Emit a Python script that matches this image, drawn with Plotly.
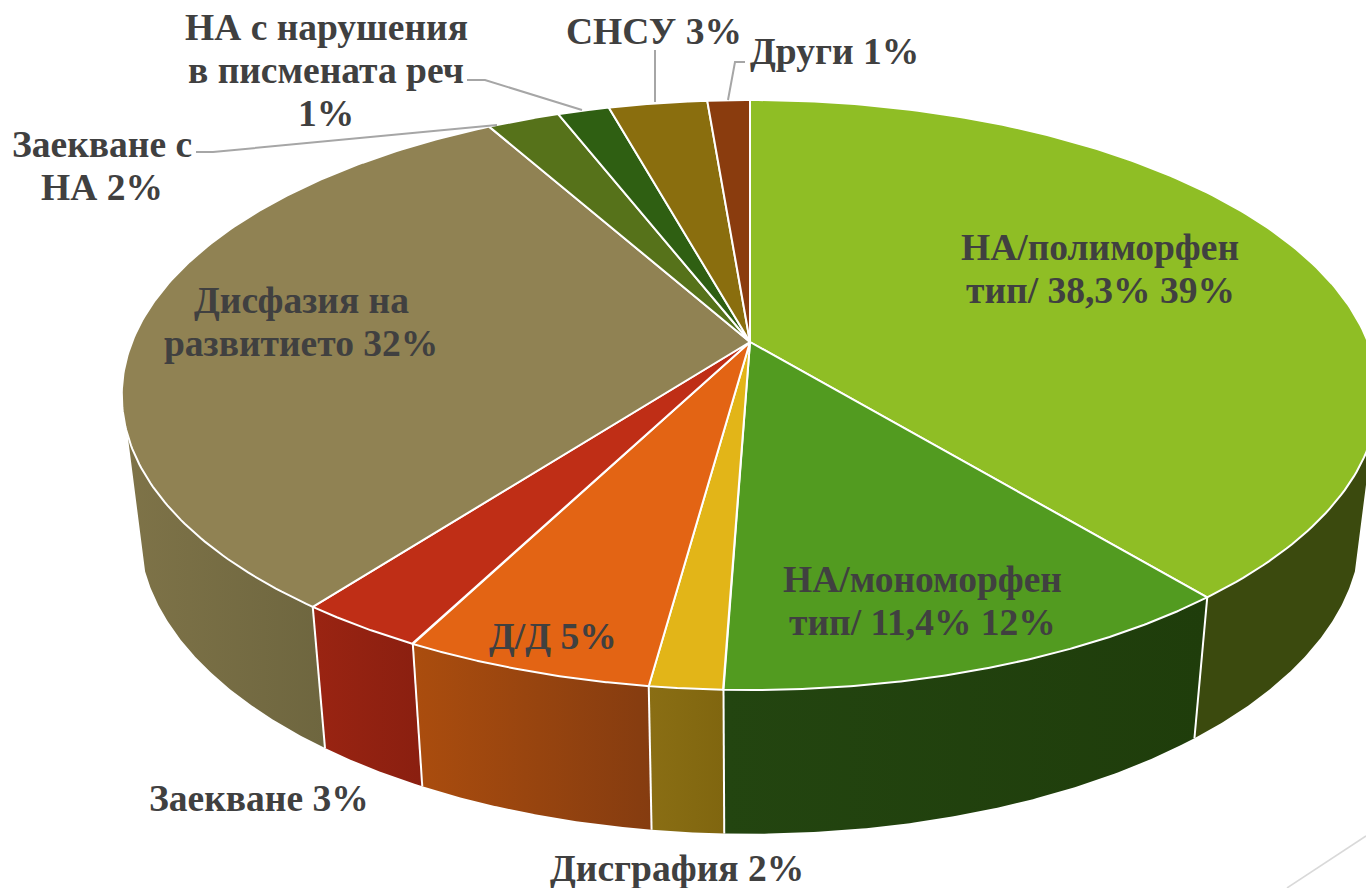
import numpy as np
import plotly.graph_objects as go

labels = ["НА/полиморфен<br>тип/ 38,3% 39%", "НА/мономорфен<br>тип/ 11,4% 12%", "Дисграфия 2%", "Д/Д 5%", "Заекване 3%",
          "Дисфазия на<br>развитието 32%", "Заекване с<br>НА 2%", "НА с нарушения<br>в писмената реч<br>1%", "СНСУ 3%", "Други 1%"]
values = [39.0, 11.56, 1.59, 5.43, 2.79, 31.51, 2.22, 1.58, 3.02, 1.3]
top_colors = ["#8fbe25", "#529b20", "#e2b518", "#e36414", "#bf2e16", "#908253", "#56721a", "#2f5f12", "#8a6e0e", "#8a3c0e"]
wall_left = ["#3b4a0e", "#234510", "#8a6e14", "#ab4d0e", "#9a2412", "#7e7348", "#56721a", "#2f5f12", "#8a6e0e", "#8a3c0e"]
wall_right = ["#3b4a0e", "#1f3d0b", "#80660f", "#853c10", "#8a1f10", "#6e663f", "#56721a", "#2f5f12", "#8a6e0e", "#8a3c0e"]
label_x = [1100, 922, 677, 553, 259, 301, 102, 326, 654, 834]
label_y = [269, 601, 868, 636, 798, 322, 166, 70, 31, 51]
LINE_H = 43

# pie projection (perspective disc seen from above)
CX, CY, A, B, K = 750, 342, 618.0, 285.5, 0.1797
def top_xy(theta):
    u, v = np.sin(theta), -np.cos(theta)
    d = 1 - K * v
    return CX + A * u / d, CY + B * v / d
def bot_xy(x, y):
    return CX + 0.972 * (x - CX), y + 141 + 0.03 * (y - 600)

edges = np.concatenate([[0], np.cumsum(values)]) / sum(values) * 2 * np.pi
VIS_A, VIS_B = np.radians(108), np.radians(252)

fig = go.Figure()
# walls
for i in range(len(values)):
    a, b = max(edges[i], VIS_A), min(edges[i + 1], VIS_B)
    if b <= a:
        continue
    t = np.linspace(a, b, 120)
    x, y = top_xy(t)
    xb, yb = bot_xy(x, y)
    fig.add_trace(go.Scatter(x=np.r_[x, xb[::-1], x[0]], y=np.r_[y, yb[::-1], y[0]], mode="lines", fill="toself",
                             line=dict(width=0, color=wall_left[i]),
                             fillcolor=wall_left[i],
                             fillgradient=dict(type="horizontal", colorscale=[[0, wall_left[i]], [1, wall_right[i]]]),
                             hoverinfo="skip", showlegend=False))
# wall separators
for e in edges:
    if VIS_A < e < VIS_B:
        x, y = top_xy(np.array([e]))
        xb, yb = bot_xy(x, y)
        fig.add_trace(go.Scatter(x=[x[0], xb[0]], y=[y[0], yb[0]], mode="lines", line=dict(color="white", width=2),
                                 hoverinfo="skip", showlegend=False))
# top face
for i in range(len(values)):
    t = np.linspace(edges[i], edges[i + 1], 160)
    x, y = top_xy(t)
    fig.add_trace(go.Scatter(x=np.r_[CX, x, CX], y=np.r_[CY, y, CY], mode="lines", fill="toself",
                             line=dict(color="white", width=2), fillcolor=top_colors[i],
                             hoverinfo="skip", showlegend=False))
# leader lines
leaders = [([196, 213, 497], [152, 152, 125]), ([467, 485, 582], [80, 80, 110]),
           ([655, 655], [50, 102]), ([745, 735, 728], [62, 62, 100])]
for lx, ly in leaders:
    fig.add_trace(go.Scatter(x=lx, y=ly, mode="lines", line=dict(color="#a6a6a6", width=2),
                             hoverinfo="skip", showlegend=False))
# decorative diagonal
fig.add_trace(go.Scatter(x=[1287, 1366], y=[888, 836], mode="lines", line=dict(color="#d9d9d9", width=1.5),
                         hoverinfo="skip", showlegend=False))
for s, lx, ly in zip(labels, label_x, label_y):
    parts = s.split("<br>")
    for j, part in enumerate(parts):
        fig.add_annotation(x=lx, y=ly + (j - (len(parts) - 1) / 2) * LINE_H, text="<b>" + part + "</b>", showarrow=False,
                           xanchor="center", yanchor="middle",
                           font=dict(family="Liberation Serif", size=37.5, color="#404040"), align="center")

fig.update_layout(width=1366, height=888, margin=dict(l=0, r=0, t=0, b=0), paper_bgcolor="white", plot_bgcolor="white",
                  xaxis=dict(range=[0, 1366], visible=False, fixedrange=True),
                  yaxis=dict(range=[888, 0], visible=False, fixedrange=True), showlegend=False)
fig.write_html("out.html", config=dict(displayModeBar=False), include_plotlyjs=True,
               post_script="document.body.style.margin='0';document.body.style.overflow='hidden';")
